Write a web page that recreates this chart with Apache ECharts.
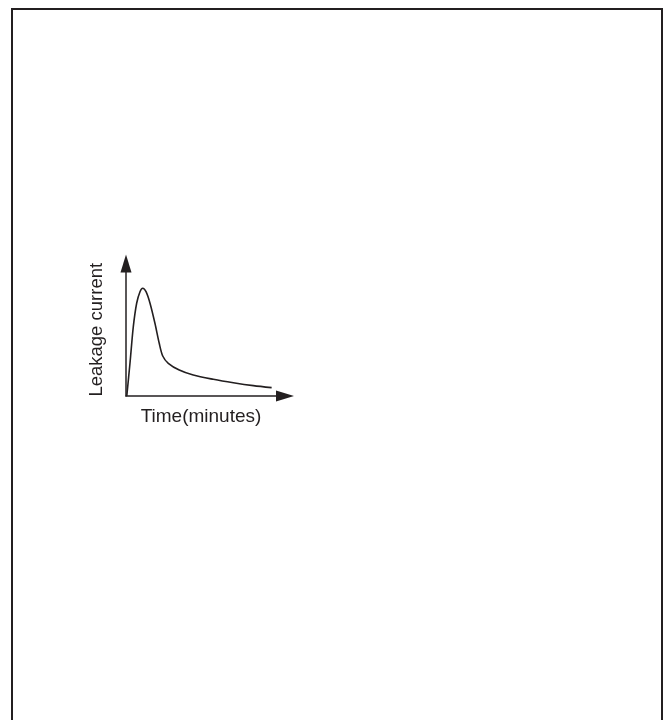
<!DOCTYPE html>
<html>
<head>
<meta charset="utf-8">
<script src="https://cdn.jsdelivr.net/npm/echarts@6/dist/echarts.min.js"></script>
<style>
  html, body { margin: 0; padding: 0; background: #fff; }
  #container { width: 669px; height: 720px; }
</style>
</head>
<body>
<div id="container"></div>
<script>
// time in arbitrary units (0-100), current in arbitrary units (0-100)
var timeValues = [0.5, 2.5, 4.6, 6.7, 8.8, 10.5, 12.6, 15.1, 18.2, 20.9, 23.1, 26.6, 33.5, 42.3, 54.9, 67.5, 80.1, 91.6];
var currentValues = [0, 24.7, 52.3, 70, 78.7, 81.3, 78.7, 70, 54.9, 39.8, 30.2, 24.7, 19.6, 15.8, 12.6, 10, 7.8, 6.3];

var xName = 'Time(minutes)';
var yName = 'Leakage current';

var lineData = timeValues.map(function (t, i) { return [t, currentValues[i]]; });

var option = {
  animation: false,
  backgroundColor: '#fff',
  grid: {
    left: 126,
    top: 263.5,
    width: 159,
    height: 132.5
  },
  xAxis: {
    type: 'value',
    min: 0,
    max: 100,
    name: xName,
    nameLocation: 'middle',
    nameGap: 11,
    nameTextStyle: {
      color: '#231f20',
      fontSize: 19,
      fontFamily: 'Liberation Sans',
      padding: [0, 9, 0, 0],
      verticalAlign: 'top'
    },
    axisLine: {
      show: true,
      lineStyle: { color: '#231f20', width: 1.5 },
      symbol: ['none', 'triangle'],
      symbolSize: [11, 18]
    },
    axisTick: { show: false },
    axisLabel: { show: false },
    splitLine: { show: false }
  },
  yAxis: {
    type: 'value',
    min: 0,
    max: 100,
    name: yName,
    nameLocation: 'middle',
    nameGap: 20,
    nameTextStyle: {
      color: '#231f20',
      fontSize: 18.5,
      fontFamily: 'Liberation Sans'
    },
    axisLine: {
      show: true,
      lineStyle: { color: '#231f20', width: 1.5 },
      symbol: ['none', 'triangle'],
      symbolSize: [11, 18]
    },
    axisTick: { show: false },
    axisLabel: { show: false },
    splitLine: { show: false }
  },
  graphic: [{
    type: 'rect',
    shape: { x: 12, y: 9, width: 650, height: 740 },
    style: { fill: 'none', stroke: '#231f20', lineWidth: 2 },
    silent: true
  }],
  series: [{
    type: 'line',
    data: lineData,
    smooth: 0.3,
    symbol: 'none',
    lineStyle: { color: '#231f20', width: 1.6 }
  }]
};

var myChart = echarts.init(document.getElementById('container'), null, { renderer: 'canvas' });
myChart.setOption(option);
</script>
</body>
</html>
